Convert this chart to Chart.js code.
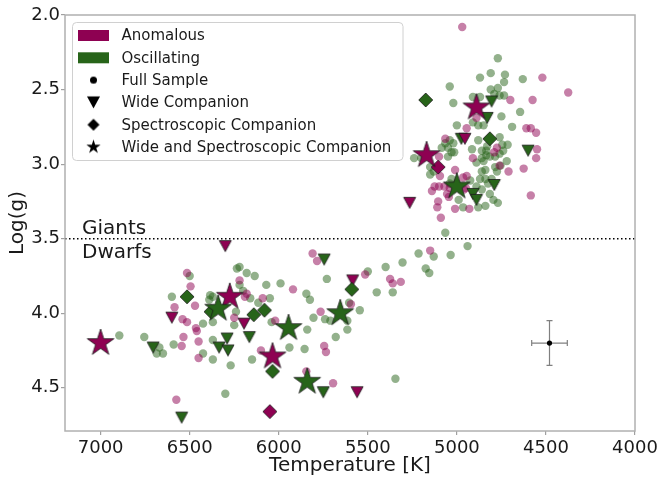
<!DOCTYPE html>
<html>
<head>
<meta charset="utf-8">
<script src="https://cdn.jsdelivr.net/npm/chart.js@4.4.0/dist/chart.umd.min.js"></script>
<style>
  html, body { margin: 0; padding: 0; background: #fff; }
</style>
</head>
<body>
<canvas id="chart" width="663" height="479"></canvas>
<script>
// [Teff, log g] pairs per group
const anomalousSample = [
  [4970, 2.08], [4520, 2.42], [4375, 2.52], [4575, 2.57], [4700, 2.57], [4890, 2.69],
  [4610, 2.76], [4585, 2.76], [4555, 2.79], [4945, 2.76], [5065, 2.83], [4550, 2.90],
  [4775, 2.89], [4790, 2.92], [5100, 2.95], [4555, 2.96], [4910, 2.96], [4760, 3.01],
  [4625, 3.03], [4710, 3.05], [5095, 3.08], [5010, 3.04], [4965, 3.09], [4945, 3.08],
  [5125, 3.15], [5100, 3.15], [5070, 3.15], [5140, 3.18], [5040, 3.16], [4960, 3.17],
  [4950, 3.16], [5055, 3.20], [5045, 3.22], [5105, 3.25], [4585, 3.21], [5110, 3.29],
  [5010, 3.30], [4930, 3.30], [5090, 3.36], [5150, 3.58], [5375, 3.77], [5360, 3.80],
  [5315, 3.79], [5515, 3.74], [5595, 3.94], [5810, 3.60], [5785, 3.65], [5920, 3.84],
  [6090, 3.90], [6220, 3.78], [6180, 3.87], [6190, 3.89], [5765, 3.99], [6250, 4.03],
  [6020, 4.05], [5745, 4.22], [5735, 4.26], [6100, 4.25], [5845, 4.39], [5695, 4.47],
  [6515, 3.73], [6495, 3.82], [6585, 3.96], [6470, 3.95], [6540, 4.04], [6515, 4.06],
  [6465, 4.10], [6460, 4.12], [6535, 4.16], [6450, 4.19], [6545, 4.22], [6450, 4.30],
  [6575, 4.58]
];
const oscillatingSample = [
  [4770, 2.29], [4810, 2.39], [4730, 2.40], [4870, 2.42], [4630, 2.43], [4735, 2.45],
  [5040, 2.48], [4770, 2.49], [4810, 2.50], [4790, 2.53], [4760, 2.54], [4735, 2.54],
  [5020, 2.59], [4910, 2.55], [4870, 2.55], [4645, 2.65], [4750, 2.68], [5000, 2.74],
  [4910, 2.72], [4880, 2.74], [4850, 2.74], [4690, 2.75], [5065, 2.86], [5040, 2.84],
  [5020, 2.86], [5085, 2.89], [5050, 2.89], [5030, 2.92], [5015, 2.92], [5050, 2.95],
  [5200, 2.96], [5240, 2.96], [5150, 3.02], [5130, 3.05], [5150, 3.07], [4880, 2.84],
  [4915, 2.90], [4860, 2.91], [4835, 2.91], [4830, 2.88], [4815, 2.95], [4835, 2.94],
  [4890, 2.99], [4860, 2.96], [4850, 2.98], [4785, 2.95], [4760, 2.93], [4740, 2.91],
  [4715, 2.87], [4745, 2.87], [4760, 2.82], [4720, 2.98], [4840, 3.04], [4860, 3.05],
  [4785, 3.02], [4775, 3.05], [5030, 3.10], [5040, 3.13], [5000, 3.13], [4925, 3.11],
  [4870, 3.10], [4840, 3.10], [4805, 3.10], [4825, 3.13], [4890, 3.15], [4860, 3.17],
  [4815, 3.20], [4795, 3.24], [4770, 3.26], [4840, 3.28], [4880, 3.29], [4965, 3.29],
  [4990, 3.24], [5065, 3.46], [4755, 3.01], [4940, 3.55], [5130, 3.62], [5215, 3.60],
  [5035, 3.61], [5400, 3.69], [5305, 3.66], [5175, 3.70], [5155, 3.73], [5360, 3.86],
  [5345, 4.44], [5500, 3.72], [5450, 3.86], [5605, 3.93], [5545, 3.98], [5615, 4.05],
  [5615, 4.11], [6235, 3.70], [6220, 3.69], [6180, 3.73], [6135, 3.75], [6070, 3.81],
  [5990, 3.80], [6220, 3.81], [6200, 3.85], [6050, 3.90], [6115, 3.93], [6240, 3.99],
  [6250, 4.08], [6160, 3.90], [5845, 3.87], [5825, 3.91], [5730, 3.77], [5805, 4.03],
  [5740, 4.04], [5710, 4.05], [5680, 4.16], [5840, 4.11], [5940, 4.23], [5855, 4.24],
  [6150, 4.31], [6040, 4.06], [6270, 4.35], [6500, 3.75], [6600, 3.89], [6895, 4.15],
  [6755, 4.16], [6670, 4.23], [6685, 4.27], [6650, 4.27], [6590, 4.21], [6425, 4.07],
  [6385, 3.88], [6370, 3.89], [6390, 3.91], [6370, 4.06], [6425, 4.27], [6370, 4.31],
  [6370, 4.18], [6300, 4.54]
];

const anomalousWide = [[6300, 3.55], [6600, 4.03], [6195, 4.07], [5585, 3.78], [5560, 4.53], [5265, 3.26], [4955, 2.83]];
const oscillatingWide = [
  [6705, 4.23], [6545, 4.70], [6290, 4.17], [6335, 4.23], [6285, 4.25], [6165, 4.16], [5745, 3.64],
  [5750, 4.53], [4805, 2.58], [4830, 2.69], [4975, 2.83], [4600, 2.91], [4790, 3.14], [4910, 3.20], [4890, 3.24]
];
const anomalousSpectro = [[5105, 3.02], [6050, 4.66]];
const oscillatingSpectro = [[6515, 3.89], [6140, 4.01], [6080, 3.98], [6035, 4.39], [5590, 3.84], [6380, 3.99], [5175, 2.57], [4815, 2.83]];
const anomalousBoth = [[7000, 4.20], [6275, 3.89], [6035, 4.29], [4890, 2.62], [5170, 2.94]];
const oscillatingBoth = [[5945, 4.10], [5655, 4.00], [5840, 4.46], [6340, 3.97], [5000, 3.15]];

// typical uncertainty
const errPoint = [4480, 4.20];
const errTeff = 100;
const errLogg = 0.15;

const boundaryLogg = 3.5;
const tempTicks = [7000, 6500, 6000, 5500, 5000, 4500, 4000];
const loggTicks = [2.0, 2.5, 3.0, 3.5, 4.0, 4.5];
const legendLabels = ['Anomalous', 'Oscillating', 'Full Sample', 'Wide Companion', 'Spectroscopic Companion', 'Wide and Spectroscopic Companion'];

const FONT = "'DejaVu Sans', sans-serif";
const ANOM = '#8e0152';
const OSC = '#276419';
const ANOM_FAINT = 'rgba(142, 1, 82, 0.5)';
const OSC_FAINT = 'rgba(39, 100, 25, 0.5)';

function shapePath(ctx, shape, r) {
  ctx.beginPath();
  if (shape === 'star') {
    for (let i = 0; i < 10; i++) {
      let rr = i % 2 === 0 ? r : r * 0.381966;
      let a = -Math.PI / 2 + i * Math.PI / 5;
      ctx.lineTo(Math.cos(a) * rr, Math.sin(a) * rr);
    }
  } else if (shape === 'tri') {
    ctx.moveTo(0, r * 0.92);
    ctx.lineTo(-r, -r * 0.92);
    ctx.lineTo(r, -r * 0.92);
  } else if (shape === 'diamond') {
    ctx.moveTo(0, -r);
    ctx.lineTo(r, 0);
    ctx.lineTo(0, r);
    ctx.lineTo(-r, 0);
  } else {
    ctx.arc(0, 0, r, 0, Math.PI * 2);
  }
  ctx.closePath();
}

function marker(shape, r, fill, edge) {
  let c = document.createElement('canvas');
  let dim = Math.ceil(r * 2 + 4);
  c.width = dim;
  c.height = dim;
  let ctx = c.getContext('2d');
  ctx.translate(dim / 2, dim / 2);
  shapePath(ctx, shape, r);
  ctx.fillStyle = fill;
  ctx.fill();
  if (edge) {
    ctx.lineWidth = 0.8;
    ctx.strokeStyle = '#1a1a1a';
    ctx.stroke();
  }
  return c;
}

function points(arr) {
  return arr.map(p => ({ x: p[0], y: p[1] }));
}

function markerSet(arr, style) {
  return { data: points(arr), pointStyle: style, pointRadius: 5, borderWidth: 0, backgroundColor: '#000' };
}

function sampleSet(arr, color) {
  return { data: points(arr), pointStyle: 'circle', pointRadius: 4.2, borderWidth: 0, backgroundColor: color };
}

// legend glyphs
const legendGlyphs = [null, null,
  marker('circle', 3.5, '#000', false),
  marker('tri', 6.5, '#000', false),
  marker('diamond', 6, '#000', false),
  marker('star', 7.5, '#000', false)
];

const overlay = {
  id: 'overlay',
  beforeDatasetsDraw(chart) {
    const { ctx, chartArea: a, scales: { x, y } } = chart;
    ctx.save();

    // giants / dwarfs divide
    let yb = y.getPixelForValue(boundaryLogg);
    ctx.beginPath();
    ctx.setLineDash([1.5, 2.5]);
    ctx.lineWidth = 1.5;
    ctx.strokeStyle = '#000';
    ctx.moveTo(a.left, yb);
    ctx.lineTo(a.right, yb);
    ctx.stroke();
    ctx.setLineDash([]);

    ctx.font = '20px ' + FONT;
    ctx.fillStyle = '#1a1a1a';
    ctx.textBaseline = 'alphabetic';
    ctx.fillText('Giants', a.left + 17, yb - 5);
    ctx.fillText('Dwarfs', a.left + 17, yb + 19);

    // error bars around the reference point
    let cx = x.getPixelForValue(errPoint[0]);
    let cy = y.getPixelForValue(errPoint[1]);
    let x0 = x.getPixelForValue(errPoint[0] + errTeff);
    let x1 = x.getPixelForValue(errPoint[0] - errTeff);
    let y0 = y.getPixelForValue(errPoint[1] - errLogg);
    let y1 = y.getPixelForValue(errPoint[1] + errLogg);
    ctx.strokeStyle = '#808080';
    ctx.lineWidth = 1.2;
    ctx.beginPath();
    ctx.moveTo(x0, cy); ctx.lineTo(x1, cy);
    ctx.moveTo(cx, y0); ctx.lineTo(cx, y1);
    ctx.moveTo(x0, cy - 3); ctx.lineTo(x0, cy + 3);
    ctx.moveTo(x1, cy - 3); ctx.lineTo(x1, cy + 3);
    ctx.moveTo(cx - 3, y0); ctx.lineTo(cx + 3, y0);
    ctx.moveTo(cx - 3, y1); ctx.lineTo(cx + 3, y1);
    ctx.stroke();
    ctx.restore();
  },
  afterDraw(chart) {
    const { ctx, chartArea: a } = chart;
    ctx.save();
    ctx.strokeStyle = '#b0b0b0';
    ctx.lineWidth = 1.5;
    ctx.strokeRect(a.left, a.top, a.right - a.left, a.bottom - a.top);

    // legend box
    let lx = a.left + 7.5, ly = a.top + 7.5;
    ctx.beginPath();
    ctx.roundRect(lx, ly, 330.5, 138, 4);
    ctx.fillStyle = 'rgba(255, 255, 255, 0.8)';
    ctx.fill();
    ctx.strokeStyle = '#d0d0d0';
    ctx.lineWidth = 1;
    ctx.stroke();

    ctx.font = '15px ' + FONT;
    ctx.textBaseline = 'middle';
    legendLabels.forEach((label, i) => {
      let ry = a.top + 20.5 + i * 22.3;
      if (i < 2) {
        ctx.fillStyle = i === 0 ? ANOM : OSC;
        ctx.fillRect(lx + 5.5, ry - 5.5, 31, 11);
      } else {
        let g = legendGlyphs[i];
        ctx.drawImage(g, lx + 21 - g.width / 2, ry - g.height / 2);
      }
      ctx.fillStyle = '#1a1a1a';
      ctx.fillText(label, lx + 49, ry + 1);
    });
    ctx.restore();
  }
};

const errDot = { data: points([errPoint]), pointStyle: 'circle', pointRadius: 2.6, borderWidth: 0, backgroundColor: '#000' };

// first dataset is painted last (on top)
const datasets = [
  errDot,
  markerSet(oscillatingBoth, marker('star', 14, OSC, true)),
  markerSet(anomalousBoth, marker('star', 14, ANOM, true)),
  markerSet(oscillatingSpectro, marker('diamond', 7, OSC, true)),
  markerSet(anomalousSpectro, marker('diamond', 7, ANOM, true)),
  markerSet(anomalousWide, marker('tri', 6, ANOM, true)),
  markerSet(oscillatingWide, marker('tri', 6, OSC, true)),
  sampleSet(anomalousSample, ANOM_FAINT),
  sampleSet(oscillatingSample, OSC_FAINT)
];

const tickFont = { family: FONT, size: 18 };
const titleFont = { family: FONT, size: 20 };

new Chart(document.getElementById('chart'), {
  type: 'scatter',
  data: { datasets: datasets },
  options: {
    responsive: false,
    animation: false,
    events: [],
    layout: { padding: { top: 15, right: 28, bottom: 0, left: 0 } },
    plugins: { legend: { display: false }, tooltip: { enabled: false } },
    scales: {
      x: {
        type: 'linear',
        reverse: true,
        min: 4000,
        max: 7200,
        afterBuildTicks: s => { s.ticks = tempTicks.map(v => ({ value: v })); },
        afterFit: s => { s.height = 48; },
        ticks: { font: tickFont, color: '#1a1a1a', padding: 3, maxRotation: 0, autoSkip: false, callback: v => String(v) },
        grid: { drawOnChartArea: false, drawTicks: true, tickLength: 4, color: '#a0a0a0', lineWidth: 1.2 },
        border: { display: false },
        title: { display: true, text: 'Temperature [K]', font: titleFont, color: '#1a1a1a', padding: { top: 0, bottom: 1 } }
      },
      y: {
        type: 'linear',
        reverse: true,
        min: 2.0,
        max: 4.79,
        afterBuildTicks: s => { s.ticks = loggTicks.map(v => ({ value: v })); },
        afterFit: s => { s.width = 65; },
        ticks: { font: tickFont, color: '#1a1a1a', padding: 1, autoSkip: false, callback: v => v.toFixed(1) },
        grid: { drawOnChartArea: false, drawTicks: true, tickLength: 4, color: '#a0a0a0', lineWidth: 1.2 },
        border: { display: false },
        title: { display: true, text: 'Log(g)', font: titleFont, color: '#1a1a1a', padding: { top: 6, bottom: 0 } }
      }
    }
  },
  plugins: [overlay]
});
</script>
</body>
</html>
